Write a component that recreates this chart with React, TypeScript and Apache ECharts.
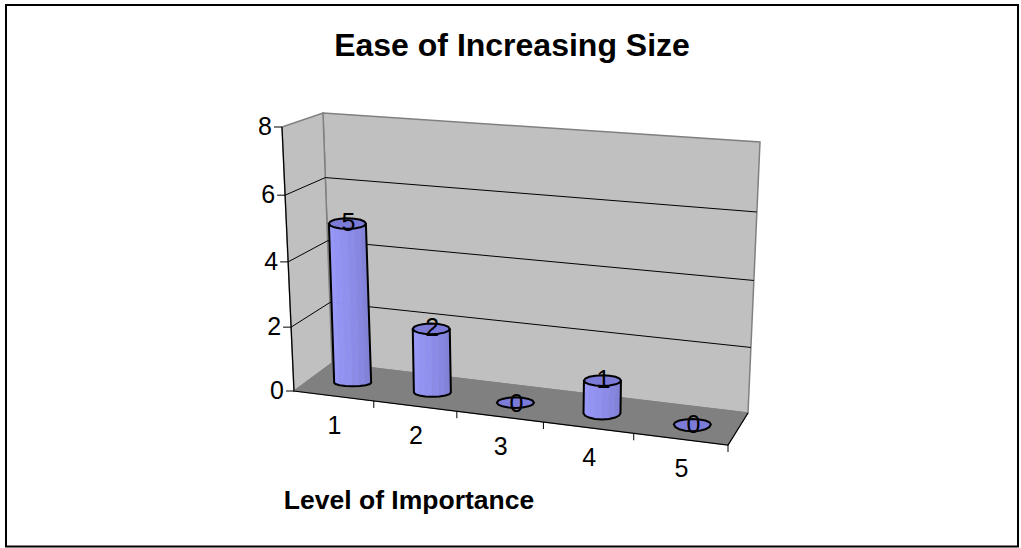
import React, { useEffect, useRef } from "react";
import * as echarts from "echarts";

const categories = ["1", "2", "3", "4", "5"];
const barValues = [5, 2, 0, 1, 0];
const yTicks = [0, 2, 4, 6, 8];
const titleText = "Ease of Increasing Size";
const xAxisName = "Level of Importance";
const FONT = "'Liberation Sans', Arial, sans-serif";

// Corners of the drawn box: floor and ceiling, front and back
const FL = [294, 391], FR = [728, 445], BL = [332, 363], BR = [748, 413];
const FLt = [282, 127], FRt = [737, 159], BLt = [323, 113], BRt = [760, 142];

const warpX = (f: number) => f / (f + 1.11 * (1 - f));
const warpY = (g: number) => g / (g + 1.045 * (1 - g));
const mix = (a: number[], b: number[], t: number) => [a[0] + (b[0] - a[0]) * t, a[1] + (b[1] - a[1]) * t];

// f: along categories (0..1), g: along values (0..1), z: 0 front, 1 back
function project(f: number, g: number, z: number) {
  const u = warpX(f), v = warpY(g);
  const bottom = mix(mix(FL, FR, u), mix(BL, BR, u), z);
  const top = mix(mix(FLt, FRt, u), mix(BLt, BRt, u), z);
  return mix(bottom, top, v);
}

function fracs(params: any, api: any, cat: number, val: number) {
  const c = api.coord([cat, val]);
  const s = params.coordSys;
  return [(c[0] - s.x) / s.width, 1 - (c[1] - s.y) / s.height];
}

const xAxisFrac = (i: number) => i / categories.length;

function renderFrame() {
  const stroke = { stroke: "#808080", lineWidth: 1.5 };
  return {
    type: "group",
    children: [
      { type: "polygon", shape: { points: [BLt, BRt, BR, BL] }, style: { fill: "#c0c0c0", ...stroke } },
      { type: "polygon", shape: { points: [FLt, BLt, BL, FL] }, style: { fill: "#c0c0c0", ...stroke } },
      { type: "polygon", shape: { points: [FL, BL, BR, FR] }, style: { fill: "#808080", stroke: "#808080", lineWidth: 1 } },
    ],
  };
}

function renderGridLine(params: any, api: any) {
  const val = api.value(1);
  const g = fracs(params, api, 0, val)[1];
  const a = project(0, g, 0), b = project(0, g, 1), c = project(1, g, 1);
  const tick = [a[0] - 8, a[1]];
  const label = {
    type: "text",
    x: a[0] - 10,
    y: a[1] - 1,
    style: { text: String(val), fill: "#000", fontSize: 25, fontFamily: FONT, textAlign: "right", textVerticalAlign: "middle" },
  };
  const black = { stroke: "#000", lineWidth: 1, fill: "none" };
  const children: any[] = [{ type: "polyline", shape: { points: [tick, a] }, style: black }, label];
  if (val > 0 && val < 8) children.push({ type: "polyline", shape: { points: [a, b, c] }, style: black });
  return { type: "group", children };
}

function renderAxisEdges() {
  const black = { stroke: "#000", lineWidth: 1.2, fill: "none" };
  const children: any[] = [
    { type: "polyline", shape: { points: [FLt, FL, FR, BR] }, style: black },
  ];
  for (let i = 1; i <= categories.length; i++) {
    const p = project(xAxisFrac(i), 0, 0);
    children.push({ type: "polyline", shape: { points: [p, [p[0], p[1] + 7]] }, style: { stroke: "#000", lineWidth: 1, fill: "none" } });
  }
  return { type: "group", children };
}

function renderCategoryLabel(params: any, api: any) {
  const idx = api.value(0);
  const p = project(fracs(params, api, idx, 0)[0], 0, 0);
  return {
    type: "text",
    x: p[0] + 1,
    y: p[1] + 29,
    style: { text: categories[idx], fill: "#000", fontSize: 25, fontFamily: FONT, textAlign: "center", textVerticalAlign: "middle" },
  };
}

const FACE_LEFT = [156, 156, 255], FACE_MID = [142, 142, 236], FACE_RIGHT = [122, 122, 206];
function faceColor(t: number) {
  const [a, b, k] = t < 0.5 ? [FACE_LEFT, FACE_MID, t * 2] : [FACE_MID, FACE_RIGHT, (t - 0.5) * 2];
  const c = [0, 1, 2].map((i) => Math.round((a as number[])[i] + ((b as number[])[i] - (a as number[])[i]) * (k as number)));
  return `rgb(${c[0]},${c[1]},${c[2]})`;
}

function renderBar(params: any, api: any) {
  const idx = api.value(0), val = api.value(1);
  const [f, g] = fracs(params, api, idx, val);
  const base = project(f, 0, 0.5), top = project(f, g, 0.5);
  base[0] += 1; top[0] += 1;
  base[1] += 1; top[1] += 1;
  const rx = 18.5, ryTop = 5.3, ryBase = 3 + 4.5 * f;
  const N = 8;
  const arc = (c: number[], ry: number) => {
    const pts: number[][] = [];
    for (let i = 0; i <= N; i++) {
      const a = Math.PI - (Math.PI * i) / N;
      pts.push([c[0] + rx * Math.cos(a), c[1] + ry * Math.sin(a)]);
    }
    return pts;
  };
  const topFront = arc(top, ryTop), baseFront = arc(base, ryBase);
  const topBack = arc(top, -ryTop);
  const children: any[] = [];
  if (val > 0) {
    for (let i = 0; i < N; i++) {
      children.push({
        type: "polygon",
        shape: { points: [topFront[i], topFront[i + 1], baseFront[i + 1], baseFront[i]] },
        style: { fill: faceColor((i + 0.5) / N), stroke: faceColor((i + 0.5) / N), lineWidth: 0.5 },
      });
    }
    children.push({
      type: "polyline",
      shape: { points: [topFront[0], ...baseFront, topFront[N]] },
      style: { stroke: "#000", lineWidth: 2, fill: "none" },
    });
    children.push({
      type: "polygon",
      shape: { points: [...topBack, ...topFront.slice().reverse().slice(1, N)] },
      style: { fill: "#7c7cd8", stroke: "#000", lineWidth: 2 },
    });
  } else {
    children.push({
      type: "polygon",
      shape: { points: [...topBack, ...baseFront.slice().reverse().slice(1, N)] },
      style: { fill: "#7c7cd8", stroke: "#000", lineWidth: 2 },
    });
  }
  children.push({
    type: "text",
    x: top[0] + 1,
    y: top[1] - (val > 0 ? 2 : 0),
    style: { text: String(val), fill: "#000", fontSize: 25, fontFamily: FONT, textAlign: "center", textVerticalAlign: "middle" },
  });
  return { type: "group", children };
}

export default function App() {
  const ref = useRef<HTMLDivElement>(null);
  useEffect(() => {
    document.body.style.margin = "0";
    const chart = echarts.init(ref.current!, null, { renderer: "svg" });
    const catData = categories.map((_, i) => [i, 0]);
    chart.setOption({
      animation: false,
      backgroundColor: "#fff",
      title: {
        text: titleText,
        left: 507,
        top: 24,
        textAlign: "center",
        textStyle: { fontFamily: FONT, fontSize: 32, fontWeight: "bold", color: "#000" },
      },
      grid: { left: 300, top: 100, width: 400, height: 300 },
      xAxis: { type: "category", data: categories, show: false },
      yAxis: { type: "value", min: 0, max: 8, interval: 2, show: false },
      graphic: [
        {
          type: "rect",
          shape: { x: 6, y: 5, width: 1012, height: 541.5 },
          style: { fill: "none", stroke: "#000", lineWidth: 2 },
          silent: true,
          z: -1,
        },
        {
          type: "text",
          x: 409,
          y: 500,
          style: { text: xAxisName, fill: "#000", fontFamily: FONT, fontSize: 26.5, fontWeight: "bold", textAlign: "center", textVerticalAlign: "middle" },
        },
      ],
      series: [
        { type: "custom", silent: true, z: 1, renderItem: renderFrame, data: [[0, 0]] },
        { type: "custom", silent: true, z: 2, renderItem: renderGridLine, data: yTicks.map((v) => [0, v]) },
        { type: "custom", silent: true, z: 3, renderItem: renderAxisEdges, data: [[0, 0]] },
        { type: "custom", silent: true, z: 3, renderItem: renderCategoryLabel, data: catData },
        { type: "custom", silent: true, z: 4, renderItem: renderBar, data: barValues.map((v, i) => [i, v]) },
      ],
    });
    return () => chart.dispose();
  }, []);
  return <div ref={ref} style={{ width: 1021, height: 548 }} />;
}
